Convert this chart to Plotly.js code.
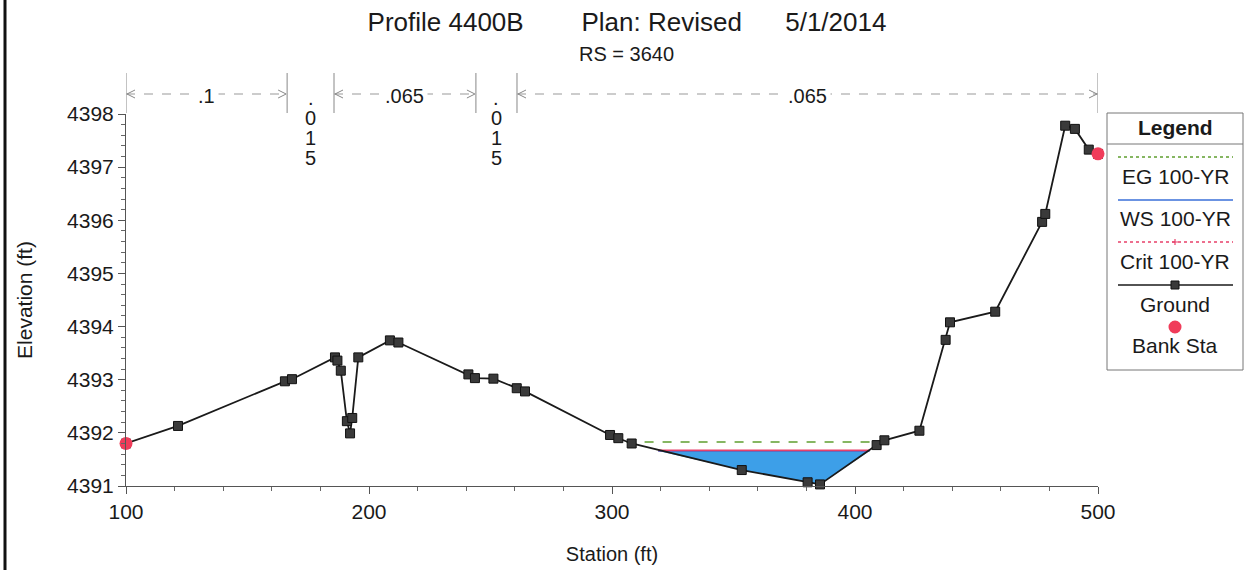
<!DOCTYPE html>
<html>
<head>
<meta charset="utf-8">
<script src="https://cdn.plot.ly/plotly-3.0.1.min.js"></script>
<style>html,body{margin:0;padding:0;background:#fff;}#chart{width:1251px;height:570px;}</style>
</head>
<body>
<div id="chart"></div>
<script>
// ---- data ----
const groundSta = [100, 121.4, 165.4, 168.3, 186.0, 187.0, 188.4, 190.9, 192.2, 193.1, 195.6, 208.6, 212.1, 240.9, 243.6, 251.2, 260.8, 264.2, 299.2, 302.6, 308.1, 353.4, 380.5, 385.6, 408.9, 412.1, 426.5, 437.3, 439.1, 457.7, 477.0, 478.3, 486.5, 490.5, 496.2, 500];
const groundElev = [4391.80, 4392.13, 4392.97, 4393.01, 4393.42, 4393.36, 4393.17, 4392.22, 4391.99, 4392.28, 4393.42, 4393.74, 4393.70, 4393.10, 4393.03, 4393.02, 4392.84, 4392.78, 4391.96, 4391.90, 4391.80, 4391.30, 4391.07, 4391.03, 4391.77, 4391.86, 4392.04, 4393.75, 4394.08, 4394.28, 4395.97, 4396.12, 4397.78, 4397.72, 4397.33, 4397.25];
const bankSta = [100, 500];
const bankElev = [4391.80, 4397.25];
const egSta = [306, 410];
const egElev = [4391.83, 4391.83];
const wsSta = [319, 406];
const wsElev = [4391.66, 4391.66];
const critSta = [319, 406];
const critElev = [4391.67, 4391.67];
const nBreaks = [100, 166.3, 185.6, 244, 260.9, 500];
const nValues = ['.1', '.015', '.065', '.015', '.065'];
const xTicks = [100, 200, 300, 400, 500];
const yTicks = [4391, 4392, 4393, 4394, 4395, 4396, 4397, 4398];
const legendNames = ['EG 100-YR', 'WS 100-YR', 'Crit 100-YR', 'Ground', 'Bank Sta'];

// ---- styles ----
const FONT = 'Liberation Sans, Arial, sans-serif';
const TXT = '#1a1a1a';
const C_EG = '#5f9e2f', C_WS = '#3a6fd8', C_CRIT = '#e8406a', C_GROUND = '#1a1a1a', C_BANK = '#f03c5a', C_WATER = '#3d9fe8';

// water polygon: WS edges + ground points between them
const waterX = [wsSta[0]], waterY = [wsElev[0]];
groundSta.forEach((s, i) => { if (s > wsSta[0] && s < wsSta[1]) { waterX.push(s); waterY.push(groundElev[i]); } });
waterX.push(wsSta[1]); waterY.push(wsElev[1]);

const traces = [
  {x: waterX, y: waterY, mode: 'lines', fill: 'toself', fillcolor: C_WATER, line: {width: 0, color: C_WATER}, hoverinfo: 'skip', showlegend: false},
  {x: egSta, y: egElev, name: legendNames[0], mode: 'lines', line: {color: C_EG, width: 1.5, dash: 'dash'}},
  {x: wsSta, y: wsElev, name: legendNames[1], mode: 'lines', line: {color: C_WS, width: 1.5}},
  {x: critSta, y: critElev, name: legendNames[2], mode: 'lines', line: {color: C_CRIT, width: 1.8}},
  {x: groundSta, y: groundElev, name: legendNames[3], mode: 'lines+markers', cliponaxis: false,
   line: {color: C_GROUND, width: 1.8}, marker: {symbol: 'square', size: 9, color: '#3a3a3a', line: {color: '#111', width: 1}}},
  {x: bankSta, y: bankElev, name: legendNames[4], mode: 'markers', cliponaxis: false,
   marker: {symbol: 'circle', size: 13, color: C_BANK}}
];

// pixel helpers for paper coordinates (plot area 126..1098 x, 114..486 y)
const PL = 126, PR = 1098, PT = 114, PB = 486;
const py = p => (PB - p) / (PB - PT);
const px = p => (p - PL) / (PR - PL);

const shapes = [];
const annotations = [];

// left border of the scanned page
shapes.push({type: 'line', xref: 'paper', yref: 'paper', x0: px(5), x1: px(5), y0: py(570), y1: py(0), line: {color: '#111', width: 3}});

// Manning's n brackets
const yArrow = py(94);
nBreaks.forEach(b => {
  shapes.push({type: 'line', xref: 'x', yref: 'paper', x0: b, x1: b, y0: py(113), y1: py(73), line: {color: '#888', width: 1}});
});
nValues.forEach((v, i) => {
  const a = nBreaks[i], b = nBreaks[i + 1], mid = (a + b) / 2;
  if (b - a > 30) {
    shapes.push({type: 'line', xref: 'x', yref: 'paper', x0: a, x1: b, y0: yArrow, y1: yArrow, line: {color: '#999', width: 1, dash: 'dash'}});
    shapes.push({type: 'path', xref: 'x', yref: 'paper', xsizemode: 'pixel', ysizemode: 'pixel', xanchor: a, yanchor: yArrow,
      path: 'M 9 4 L 1 0 L 9 -4', line: {color: '#888', width: 1}});
    shapes.push({type: 'path', xref: 'x', yref: 'paper', xsizemode: 'pixel', ysizemode: 'pixel', xanchor: b, yanchor: yArrow,
      path: 'M -9 4 L -1 0 L -9 -4', line: {color: '#888', width: 1}});
    annotations.push({x: mid, xref: 'x', y: py(96), yref: 'paper', text: v, showarrow: false, bgcolor: '#fff', borderpad: 3,
      xanchor: 'center', yanchor: 'middle', font: {family: FONT, size: 20, color: TXT}});
  } else {
    v.split('').forEach((ch, j) => {
      annotations.push({x: mid, xref: 'x', y: py(98 + 20 * j), yref: 'paper', text: ch, showarrow: false,
        xanchor: 'center', yanchor: 'middle', font: {family: FONT, size: 20, color: TXT}});
    });
  }
});

// RS subtitle
annotations.push({x: px(626), xref: 'paper', y: py(54), yref: 'paper', text: 'RS = 3640', showarrow: false,
  xanchor: 'center', yanchor: 'middle', font: {family: FONT, size: 20, color: TXT}});

// custom legend (sample above label, like the original)
const LX0 = px(1107), LX1 = px(1243), LC = px(1175);
shapes.push({type: 'rect', xref: 'paper', yref: 'paper', x0: LX0, x1: LX1, y0: py(370), y1: py(113), line: {color: '#777', width: 1}, fillcolor: 'rgba(0,0,0,0)'});
shapes.push({type: 'line', xref: 'paper', yref: 'paper', x0: LX0, x1: LX1, y0: py(144), y1: py(144), line: {color: '#777', width: 1}});
const sx0 = px(1118), sx1 = px(1233);
shapes.push({type: 'line', xref: 'paper', yref: 'paper', x0: sx0, x1: sx1, y0: py(157), y1: py(157), line: {color: C_EG, width: 1.5, dash: 'dot'}});
shapes.push({type: 'line', xref: 'paper', yref: 'paper', x0: sx0, x1: sx1, y0: py(200), y1: py(200), line: {color: C_WS, width: 1.5}});
shapes.push({type: 'line', xref: 'paper', yref: 'paper', x0: sx0, x1: sx1, y0: py(242), y1: py(242), line: {color: C_CRIT, width: 1.5, dash: 'dot'}});
shapes.push({type: 'path', xref: 'paper', yref: 'paper', xsizemode: 'pixel', ysizemode: 'pixel', xanchor: LC, yanchor: py(242),
  path: 'M -3 0 L 3 0 M 0 -3 L 0 3', line: {color: C_CRIT, width: 1.2}});
shapes.push({type: 'line', xref: 'paper', yref: 'paper', x0: sx0, x1: sx1, y0: py(285), y1: py(285), line: {color: C_GROUND, width: 1.6}});
shapes.push({type: 'rect', xref: 'paper', yref: 'paper', xsizemode: 'pixel', ysizemode: 'pixel', xanchor: LC, yanchor: py(285),
  x0: -4, x1: 4, y0: -4, y1: 4, fillcolor: '#3a3a3a', line: {color: '#111', width: 1}});
shapes.push({type: 'circle', xref: 'paper', yref: 'paper', xsizemode: 'pixel', ysizemode: 'pixel', xanchor: LC, yanchor: py(327),
  x0: -6.5, x1: 6.5, y0: -6.5, y1: 6.5, fillcolor: C_BANK, line: {color: C_BANK, width: 0}});
annotations.push({x: LC, xref: 'paper', y: py(128), yref: 'paper', text: '<b>Legend</b>', showarrow: false,
  xanchor: 'center', yanchor: 'middle', font: {family: FONT, size: 21, color: TXT}});
const labelY = [176, 218, 261, 304, 345];
legendNames.forEach((n, i) => {
  annotations.push({x: LC, xref: 'paper', y: py(labelY[i]), yref: 'paper', text: n, showarrow: false,
    xanchor: 'center', yanchor: 'middle', font: {family: FONT, size: 21, color: TXT}});
});

const layout = {
  width: 1251, height: 570,
  margin: {l: PL, r: 1251 - PR, t: PT, b: 570 - PB, pad: 0},
  paper_bgcolor: '#fff', plot_bgcolor: '#fff',
  showlegend: false,
  font: {family: FONT, color: TXT},
  title: {text: 'Profile 4400B' + '&nbsp;'.repeat(8) + 'Plan: Revised' + '&nbsp;'.repeat(6) + '5/1/2014',
    font: {family: FONT, size: 26, color: TXT}, x: px(627), xref: 'paper', y: 1 - 22 / 570, yref: 'container', xanchor: 'center', yanchor: 'middle'},
  xaxis: {
    range: [100, 500], tickvals: xTicks, ticktext: xTicks.map(String), showgrid: false, zeroline: false,
    showline: true, linecolor: '#555', linewidth: 1, ticks: 'outside', ticklen: 7, tickcolor: '#555',
    minor: {dtick: 20, tick0: 100, ticks: 'outside', ticklen: 4, tickcolor: '#666', showgrid: false},
    tickfont: {family: FONT, size: 21, color: TXT},
    title: {text: 'Station (ft)', font: {family: FONT, size: 20, color: TXT}, standoff: 24},
    automargin: false
  },
  yaxis: {
    range: [4391, 4398], tickvals: yTicks, ticktext: yTicks.map(String), showgrid: false, zeroline: false,
    showline: true, linecolor: '#555', linewidth: 1, ticks: 'outside', ticklen: 7, tickcolor: '#555',
    minor: {dtick: 0.2, tick0: 4391, ticks: 'outside', ticklen: 4, tickcolor: '#666', showgrid: false},
    tickfont: {family: FONT, size: 21, color: TXT},
    title: {text: 'Elevation (ft)', font: {family: FONT, size: 21, color: TXT}, standoff: 28},
    automargin: false
  },
  shapes: shapes,
  annotations: annotations
};

Plotly.newPlot('chart', traces, layout, {staticPlot: true, displayModeBar: false});
</script>
</body>
</html>
